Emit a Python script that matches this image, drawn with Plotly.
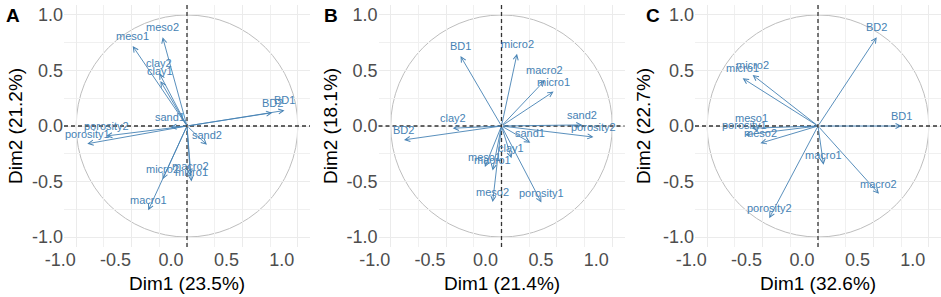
import plotly.graph_objects as go

# ---------------- data ----------------
panel_letters = ["A", "B", "C"]
x_titles = ["Dim1 (23.5%)", "Dim1 (21.4%)", "Dim1 (32.6%)"]
y_titles = ["Dim2 (21.2%)", "Dim2 (18.1%)", "Dim2 (22.7%)"]
tick_values = [-1.0, -0.5, 0.0, 0.5, 1.0]
tick_labels = ["-1.0", "-0.5", "0.0", "0.5", "1.0"]

a_vars = ["BD1", "BD2", "clay1", "clay2", "sand1", "sand2", "porosity1", "porosity2",
          "macro1", "macro2", "meso1", "meso2", "micro1", "micro2"]
a_dim1 = [0.88, 0.77, -0.24, -0.25, -0.15, 0.18, -0.90, -0.73,
          -0.35, 0.03, -0.49, -0.22, 0.04, -0.22]
a_dim2 = [0.14, 0.12, 0.405, 0.475, -0.01, -0.17, -0.16, -0.09,
          -0.76, -0.45, 0.72, 0.80, -0.50, -0.48]

b_vars = ["BD1", "BD2", "clay1", "clay2", "sand1", "sand2", "porosity1", "porosity2",
          "macro1", "macro2", "meso1", "meso2", "micro1", "micro2"]
b_dim1 = [-0.37, -0.88, 0.09, -0.44, 0.26, 0.73, 0.36, 0.83,
          -0.08, 0.39, -0.15, -0.08, 0.47, 0.14]
b_dim2 = [0.63, -0.125, -0.29, -0.02, -0.15, 0.01, -0.69, -0.10,
          -0.40, 0.41, -0.37, -0.685, 0.31, 0.65]

c_vars = ["BD1", "BD2", "porosity1", "porosity2", "macro1", "macro2",
          "meso1", "meso2", "micro1", "micro2"]
c_dim1 = [0.755, 0.53, -0.66, -0.44, 0.05, 0.55, -0.60, -0.52, -0.68, -0.59]
c_dim2 = [0.0, 0.80, -0.08, -0.83, -0.35, -0.61, -0.02, -0.155, 0.43, 0.46]

panels = [(a_vars, a_dim1, a_dim2), (b_vars, b_dim1, b_dim2), (c_vars, c_dim1, c_dim2)]

# ---------------- styling / layout ----------------
W, H = 941, 297
ARROW = "#4682B4"
FONT = "Liberation Sans, Arial, sans-serif"
x_domains = [[64 / W, 310 / W], [378.5 / W, 624.5 / W], [695 / W, 941 / W]]
y_domain = [50 / H, 292 / H]
x_range = [-1.11, 1.11]
y_range = [-1.09, 1.09]
letter_x = [4, 322, 644]
ytitle_x = [15, 330, 643]

fig = go.Figure()
annotations = []
shapes = []

for i, (names, d1, d2) in enumerate(panels):
    sfx = "" if i == 0 else str(i + 1)
    xr, yr = "x" + sfx, "y" + sfx
    fig.add_trace(go.Scatter(x=d1, y=d2, text=names, mode="markers",
                             marker=dict(size=1, opacity=0), hoverinfo="text",
                             xaxis=xr, yaxis=yr, showlegend=False))
    # correlation circle
    shapes.append(dict(type="circle", xref=xr, yref=yr, x0=-1, x1=1, y0=-1, y1=1,
                       line=dict(color="#BEBEBE", width=1), layer="below"))
    # dashed zero lines
    shapes.append(dict(type="line", xref=xr + " domain", yref=yr, x0=0, x1=1, y0=0, y1=0,
                       line=dict(color="#333333", width=1.3, dash="4px,3px")))
    shapes.append(dict(type="line", xref=xr, yref=yr + " domain", x0=0, x1=0, y0=0, y1=1,
                       line=dict(color="#333333", width=1.3, dash="4px,3px")))
    for n, vx, vy in zip(names, d1, d2):
        annotations.append(dict(x=vx, y=vy, ax=0, ay=0, xref=xr, yref=yr, axref=xr, ayref=yr,
                                text="", showarrow=True, arrowhead=5, arrowsize=1.1,
                                arrowwidth=0.9, arrowcolor=ARROW))
    for n, vx, vy in zip(names, d1, d2):
        annotations.append(dict(x=vx, y=vy, xref=xr, yref=yr, text=n, showarrow=False,
                                yshift=10, font=dict(family=FONT, size=11, color=ARROW)))
    annotations.append(dict(x=letter_x[i] / W, y=1 - 3 / H, xref="paper", yref="paper",
                            xanchor="left", yanchor="top", showarrow=False,
                            text="<b>" + panel_letters[i] + "</b>",
                            font=dict(family=FONT, size=19, color="black")))
    # axis titles
    annotations.append(dict(x=sum(x_domains[i]) / 2, y=1 - 283 / H, xref="paper", yref="paper",
                            xanchor="center", yanchor="middle", showarrow=False,
                            text=x_titles[i], font=dict(family=FONT, size=19, color="black")))
    annotations.append(dict(x=ytitle_x[i] / W, y=1 - 126 / H, xref="paper", yref="paper",
                            xanchor="center", yanchor="middle", showarrow=False, textangle=-90,
                            text=y_titles[i], font=dict(family=FONT, size=19, color="black")))

    axis_common = dict(tickmode="array", tickvals=tick_values, ticktext=tick_labels,
                       showgrid=True, gridcolor="#EBEBEB", gridwidth=1,
                       zeroline=False, showline=False, ticks="", automargin=False,
                       tickfont=dict(family=FONT, size=18, color="#4D4D4D"),
                       minor=dict(tickmode="linear", tick0=-1, dtick=0.25, showgrid=True,
                                  gridcolor="#F0F0F0", gridwidth=0.7, ticks=""))
    fig.layout["xaxis" + sfx] = dict(axis_common, domain=x_domains[i], range=x_range,
                                     anchor=yr, ticklabelshift=-16)
    fig.layout["yaxis" + sfx] = dict(axis_common, domain=y_domain, range=y_range,
                                     anchor=xr)

fig.update_layout(width=W, height=H, margin=dict(l=0, r=0, t=0, b=0),
                  paper_bgcolor="white", plot_bgcolor="white",
                  annotations=annotations, shapes=shapes, showlegend=False,
                  font=dict(family=FONT))
fig.write_html("out.html", config={"displayModeBar": False},
               post_script="document.body.style.margin='0px';document.body.style.overflow='hidden';")
